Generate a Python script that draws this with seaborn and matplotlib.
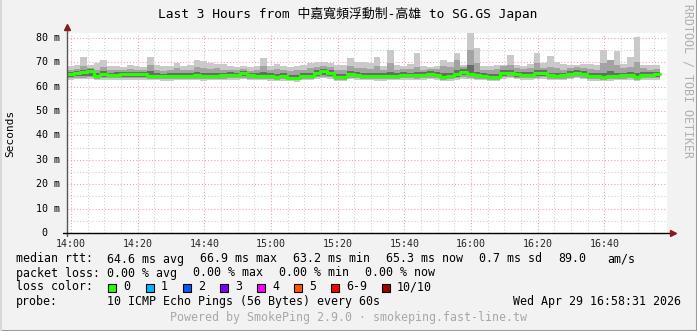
import numpy as np
import pandas as pd
import matplotlib
matplotlib.use("Agg")
import matplotlib.pyplot as plt
import seaborn as sns
from matplotlib.patches import Rectangle
from matplotlib.lines import Line2D

# ---------------- data (2-minute steps starting 13:58:48) ----------------
median = [65.0, 65.6, 66.0, 66.3, 64.3, 65.0, 64.8, 64.8, 65.0, 65.0,
          65.0, 65.1, 64.5, 64.4, 64.2, 64.2, 64.3, 64.2, 64.4, 64.6,
          64.2, 64.2, 64.5, 64.6, 64.8, 64.8, 65.4, 64.6, 64.4, 64.3,
          64.2, 64.1, 64.2, 63.7, 63.6, 64.3, 64.5, 65.6, 66.4, 65.8,
          64.1, 64.0, 65.3, 64.8, 64.4, 64.3, 64.2, 64.2, 64.4, 64.4,
          64.8, 64.7, 64.6, 64.9, 65.2, 64.8, 64.1, 64.3, 65.2, 66.0,
          65.3, 64.6, 64.5, 64.1, 63.9, 65.6, 65.7, 65.0, 64.9, 64.8,
          65.4, 65.6, 64.6, 64.5, 64.6, 65.3, 65.8, 65.2, 64.3, 64.2,
          64.1, 64.2, 64.5, 64.6, 64.7, 64.0, 64.9, 64.8, 65.0]
smoke_max = [68.5, 68.9, 72.2, 69.0, 69.6, 70.8, 68.4, 68.6, 68.2, 68.9,
             68.5, 68.2, 72.3, 68.8, 68.3, 68.6, 69.5, 68.4, 69.0, 70.9,
             70.7, 69.5, 69.3, 69.3, 68.5, 68.2, 68.3, 68.0, 68.4, 71.6,
             68.6, 69.3, 68.5, 68.2, 68.6, 68.9, 69.6, 70.2, 70.0, 69.8,
             68.8, 68.9, 71.6, 70.3, 70.0, 69.8, 72.0, 68.4, 75.0, 68.9,
             68.6, 69.2, 73.6, 68.4, 68.2, 68.6, 70.9, 70.2, 73.6, 69.0,
             82.0, 75.7, 68.6, 68.3, 69.0, 68.8, 73.0, 69.0, 68.5, 69.4,
             73.9, 69.5, 72.5, 70.2, 69.3, 69.0, 68.8, 69.2, 69.3, 68.7,
             75.0, 69.5, 74.7, 69.2, 72.3, 80.2, 69.0, 68.7, 68.8]
smoke_hi2 = [67.0, 67.2, 68.5, 67.5, 67.0, 68.0, 66.8, 67.0, 66.7, 67.3,
             67.0, 66.8, 68.8, 67.0, 66.6, 66.9, 67.5, 66.8, 67.0, 68.0,
             67.8, 67.2, 67.5, 67.0, 66.9, 66.7, 67.3, 66.6, 66.8, 68.5,
             66.9, 67.2, 66.8, 66.5, 66.7, 67.0, 67.6, 68.2, 68.5, 67.9,
             66.8, 67.0, 68.6, 67.8, 67.5, 67.2, 68.5, 66.8, 69.5, 67.0,
             67.2, 67.4, 68.0, 67.0, 67.3, 67.2, 68.3, 68.0, 71.0, 68.0,
             75.0, 69.5, 67.0, 66.8, 67.2, 68.5, 69.0, 67.8, 67.2, 67.5,
             69.8, 67.8, 68.0, 67.5, 67.0, 67.6, 68.0, 67.5, 67.2, 67.0,
             69.5, 70.9, 69.0, 67.5, 68.0, 70.0, 67.5, 67.0, 67.2]
smoke_hi1 = [66.2, 66.6, 67.0, 67.2, 65.6, 66.5, 65.8, 65.9, 66.0, 66.2,
             66.0, 66.1, 66.5, 65.6, 65.3, 65.5, 65.8, 65.4, 65.6, 66.2,
             65.8, 65.5, 65.8, 65.7, 65.9, 65.8, 66.6, 65.6, 65.5, 66.0,
             65.4, 65.3, 65.4, 64.9, 64.9, 65.5, 65.8, 66.7, 67.3, 66.9,
             65.3, 65.2, 66.4, 66.0, 65.6, 65.5, 65.8, 65.4, 66.0, 65.6,
             65.9, 65.8, 66.0, 66.0, 66.3, 66.0, 65.4, 65.6, 67.0, 67.2,
             69.0, 66.0, 65.6, 65.3, 65.0, 66.7, 66.9, 66.2, 66.0, 66.0,
             66.8, 66.7, 65.8, 65.7, 65.7, 66.4, 66.9, 66.3, 65.5, 65.4,
             65.6, 66.5, 65.8, 65.7, 66.0, 65.5, 66.0, 65.9, 66.0]
smoke_lo1 = [64.0, 64.2, 64.3, 64.4, 63.6, 64.0, 63.9, 63.9, 64.0, 64.0,
             63.9, 64.1, 63.8, 63.7, 63.6, 63.5, 63.6, 63.5, 63.7, 63.8,
             63.5, 63.5, 63.7, 63.8, 63.9, 63.9, 64.2, 63.8, 63.6, 63.6,
             63.5, 63.4, 63.5, 63.1, 63.0, 63.6, 63.8, 64.4, 64.8, 64.5,
             63.4, 63.3, 64.2, 63.9, 63.6, 63.6, 63.5, 63.5, 63.7, 63.7,
             63.9, 63.9, 63.8, 64.0, 64.2, 63.9, 63.4, 63.5, 64.1, 64.6,
             64.3, 63.8, 63.7, 63.4, 63.2, 64.4, 64.6, 64.0, 64.0, 63.9,
             64.3, 64.5, 63.8, 63.7, 63.8, 64.2, 64.6, 64.2, 63.5, 63.5,
             63.4, 63.5, 63.7, 63.8, 63.9, 63.3, 64.0, 64.0, 64.1]
smoke_lo2 = [63.4, 63.6, 63.7, 63.8, 63.1, 63.5, 63.4, 63.4, 63.5, 63.5,
             63.4, 63.5, 63.3, 63.2, 63.1, 63.0, 63.1, 63.1, 63.2, 63.3,
             63.0, 63.1, 63.2, 63.3, 63.4, 63.4, 63.6, 63.3, 63.1, 63.1,
             63.0, 62.9, 63.0, 62.7, 62.6, 63.1, 63.3, 63.8, 64.0, 63.9,
             62.9, 62.8, 63.6, 63.4, 63.1, 63.1, 63.0, 63.0, 63.2, 63.2,
             63.4, 63.4, 63.3, 63.5, 63.6, 63.4, 62.9, 63.0, 63.5, 63.9,
             63.7, 63.3, 63.2, 62.9, 62.7, 63.8, 64.0, 63.5, 63.4, 63.4,
             63.7, 63.9, 63.3, 63.2, 63.3, 63.7, 64.0, 63.6, 63.0, 63.0,
             62.9, 63.0, 63.2, 63.3, 63.4, 62.8, 63.5, 63.4, 63.5]
smoke_min = [62.8, 63.0, 63.0, 63.1, 62.6, 62.9, 62.8, 62.9, 62.9, 62.9,
             62.8, 62.9, 62.7, 62.6, 62.5, 62.5, 62.6, 62.6, 62.7, 62.8,
             62.5, 62.6, 62.7, 62.8, 62.9, 62.8, 63.0, 62.8, 62.6, 62.6,
             62.4, 62.4, 62.5, 62.2, 62.1, 62.6, 62.8, 63.2, 63.4, 63.3,
             62.4, 62.3, 63.0, 62.9, 62.6, 62.6, 62.5, 62.5, 62.7, 62.7,
             62.9, 62.8, 62.8, 62.9, 63.0, 62.9, 62.4, 62.5, 62.9, 63.3,
             63.1, 62.8, 62.7, 62.4, 62.2, 63.2, 63.4, 63.0, 62.9, 62.9,
             63.1, 63.3, 62.8, 62.7, 62.8, 63.1, 63.4, 63.0, 62.5, 62.4,
             62.4, 62.5, 62.7, 62.7, 62.8, 62.2, 62.9, 62.8, 62.9]

xtick_minutes = [0, 20, 40, 60, 80, 100, 120, 140, 160]
xtick_labels = ["14:00", "14:20", "14:40", "15:00", "15:20", "15:40",
                "16:00", "16:20", "16:40"]
ytick_values = [0, 10, 20, 30, 40, 50, 60, 70, 80]
ytick_labels = [" 0", "10 m", "20 m", "30 m", "40 m", "50 m", "60 m", "70 m", "80 m"]

title = "Last 3 Hours from 中嘉寬頻浮動制-高雄 to SG.GS Japan"
loss_colors = ["#26ff00", "#00b8ff", "#0059ff", "#7e00ff", "#ff00ff",
               "#ff5500", "#ff0000", "#a10000"]
loss_labels = ["0", "1", "2", "3", "4", "5", "6-9", "10/10"]

# ---------------- figure ----------------
W, H = 697, 331
sns.set_theme(style="white")
plt.rcParams["font.family"] = ["DejaVu Sans Mono", "Noto Sans CJK TC"]

fig = plt.figure(figsize=(W / 100, H / 100), dpi=100, facecolor="#f2f2f2")
ax = fig.add_axes([67 / W, 98 / H, 600 / W, 200 / H])
ax.set_facecolor("white")

n = len(median)
start = -1.2
edges = start + 2.0 * np.arange(n + 1)

ax.stairs(smoke_max, edges, baseline=smoke_min, fill=True, color="#c9c9c9", lw=0, zorder=2)
ax.stairs(smoke_hi2, edges, baseline=smoke_lo2, fill=True, color="#a3a3a3", lw=0, zorder=3)
ax.stairs(smoke_hi1, edges, baseline=smoke_lo1, fill=True, color="#6a6a6a", lw=0, zorder=4)

df = pd.DataFrame({"t": edges, "rtt": np.append(median, median[-1])})
sns.lineplot(data=df, x="t", y="rtt", ax=ax, estimator=None, drawstyle="steps-post",
             color="#26ff00", lw=2.3, zorder=5)

ax.set_xlim(start, start + 180)
ax.set_ylim(0, 82)
ax.set_xlabel("")
ax.set_ylabel("")

ax.set_xticks(xtick_minutes)
ax.set_xticklabels(xtick_labels, fontsize=7.2, family="DejaVu Sans Mono")
ax.set_xticks(np.arange(0, 180, 5), minor=True)
ax.set_yticks(ytick_values)
ax.set_yticklabels([])
ax.set_yticks(np.arange(5, 82, 10), minor=True)
ax.tick_params(axis="x", which="major", length=2.5, width=0.8, color="#d04040", pad=2)
ax.tick_params(axis="x", which="minor", length=0)
ax.tick_params(axis="y", which="major", length=2.5, width=0.8, color="#808080", pad=1)
ax.tick_params(axis="y", which="minor", length=1.5, width=0.8, color="#a0a0a0")

for v, lab in zip(ytick_values, ytick_labels):
    ax.text(-31 / 600, v, lab, transform=ax.get_yaxis_transform(), ha="left", va="center",
            fontsize=7.2, family="DejaVu Sans Mono", color="black")

ax.set_axisbelow(True)
ax.grid(True, which="minor", color="#cfcfcf", ls=(0, (1, 2)), lw=0.75)
ax.grid(True, which="major", color="#eaa0a0", ls=(0, (1, 2)), lw=0.75)

for s in ["top", "right", "left", "bottom"]:
    ax.spines[s].set_visible(False)
# axes with arrows
ax.plot([0, 0], [-0.015, 1.025], transform=ax.transAxes, color="#555555", lw=1.0,
        clip_on=False, zorder=6)
ax.plot([-0.006, 1.008], [0, 0], transform=ax.transAxes, color="black", lw=1.0,
        clip_on=False, zorder=6)
ax.plot([0], [1.03], marker="^", ms=5, color="#8b1a1a", transform=ax.transAxes,
        clip_on=False, zorder=7)
ax.plot([1.01], [0], marker=">", ms=5, color="#8b1a1a", transform=ax.transAxes,
        clip_on=False, zorder=7)


def ftext(x, y, s, **kw):
    kw.setdefault("fontsize", 8.4)
    kw.setdefault("va", "center")
    kw.setdefault("color", "black")
    fig.text(x / W, 1 - y / H, s, **kw)


ftext(348, 14, title, ha="center", fontsize=9.3,
      family=["DejaVu Sans Mono", "Noto Sans CJK TC"])
ftext(10, 133, "Seconds", ha="center", rotation=90, fontsize=8)
ftext(688, 81, "RRDTOOL / TOBI OETIKER", ha="center", rotation=270, color="#b0b0b0")

row1 = [(16, "median rtt:"), (107, "64.6 ms avg"), (200, "66.9 ms max"),
        (293, "63.2 ms min"), (386, "65.3 ms now"), (479, "0.7 ms sd"),
        (558, "89.0"), (607, "am/s")]
for x, s in row1:
    ftext(x, 259, s)
row2 = [(16, "packet loss:"), (107, "0.00 % avg"), (193, "0.00 % max"),
        (279, "0.00 % min"), (365, "0.00 % now")]
for x, s in row2:
    ftext(x, 273, s)
ftext(16, 287, "loss color:")
box_x = [108, 146, 183, 220, 257, 294, 331, 382]
for bx, c, lab in zip(box_x, loss_colors, loss_labels):
    fig.patches.append(Rectangle(((bx) / W, 1 - 291.5 / H), 8 / W, 8 / H,
                                 transform=fig.transFigure, facecolor=c,
                                 edgecolor="black", lw=0.8, figure=fig))
    ftext(bx + 15, 287, lab)
ftext(16, 301, "probe:")
ftext(107, 301, "10 ICMP Echo Pings (56 Bytes) every 60s")
ftext(681, 301, "Wed Apr 29 16:58:31 2026", ha="right")
ftext(349, 318, "Powered by SmokePing 2.9.0 \u00b7 smokeping.fast-line.tw", ha="center",
      color="#a8a8a8")

# outer 3D frame
fig.add_artist(Line2D([0, 1], [0.5 / H, 0.5 / H], transform=fig.transFigure,
                      color="#9a9a9a", lw=1.5))
fig.add_artist(Line2D([1 - 0.5 / W, 1 - 0.5 / W], [0, 1], transform=fig.transFigure,
                      color="#9a9a9a", lw=1.5))
fig.add_artist(Line2D([0.5 / W, 0.5 / W], [0, 1], transform=fig.transFigure,
                      color="#d8d8d8", lw=1.5))

fig.savefig("out.png", dpi=100, facecolor=fig.get_facecolor())
